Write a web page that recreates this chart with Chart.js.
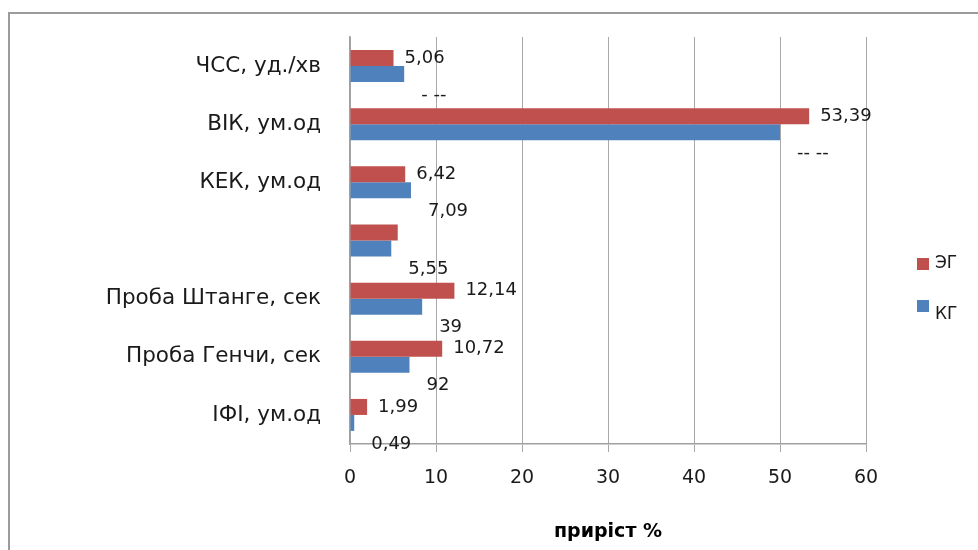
<!DOCTYPE html>
<html><head><meta charset="utf-8">
<script src="https://cdn.jsdelivr.net/npm/chart.js@4"></script>
<style>
html,body{margin:0;padding:0;background:#fff;overflow:hidden;width:978px;height:550px;}
#frame{position:absolute;left:8px;top:12px;width:1000px;height:600px;border:2px solid #9b9b9b;box-sizing:border-box;}
#wrap{position:absolute;left:0;top:0;width:978px;height:550px;}
</style></head><body>
<div id="frame"></div>
<div id="wrap"><canvas id="c" width="978" height="550"></canvas></div>
<script>
const categories = ['ЧСС, уд./хв', 'ВІК, ум.од', 'КЕК, ум.од', '', 'Проба Штанге, сек', 'Проба Генчи, сек', 'ІФІ, ум.од'];
const egValues = [5.06, 53.39, 6.42, 5.55, 12.14, 10.72, 1.99];
const kgValues = [6.3, 50.0, 7.09, 4.8, 8.39, 6.92, 0.49];
const egLabels = ['5,06', '53,39', '6,42', '', '12,14', '10,72', '1,99'];
const kgLabels = ['- --', '-- --', '7,09', '5,55', '39', '92', '0,49'];
const xTicks = [0, 10, 20, 30, 40, 50, 60];
const seriesNames = ['ЭГ', 'КГ'];
const axisTitle = 'приріст %';

const FONT = '"DejaVu Sans", sans-serif';
const RED = '#C0504D', BLUE = '#4F81BD';

const labelPlugin = {
  id: 'valueLabels',
  afterDatasetsDraw(chart) {
    const ctx = chart.ctx;
    ctx.save();
    ctx.font = '18px ' + FONT;
    ctx.fillStyle = '#1a1a1a';
    ctx.textAlign = 'left';
    ctx.textBaseline = 'middle';
    const sets = [egLabels, kgLabels];
    chart.data.datasets.forEach((ds, di) => {
      const meta = chart.getDatasetMeta(di);
      meta.data.forEach((el, i) => {
        const t = sets[di][i];
        if (!t) return;
        if (di === 0) ctx.fillText(t, el.x + 11, el.y);
        else ctx.fillText(t, el.x + 17, el.y + 21);
      });
    });
    ctx.restore();
  }
};

const legendPlugin = {
  id: 'sideLegend',
  afterDraw(chart) {
    const ctx = chart.ctx;
    const a = chart.chartArea;
    ctx.save();
    ctx.font = '17px ' + FONT;
    ctx.textBaseline = 'middle';
    ctx.textAlign = 'left';
    const x = a.right + 51;
    const ys = [264, 306];
    chart.data.datasets.forEach((ds, i) => {
      ctx.fillStyle = ds.backgroundColor;
      ctx.fillRect(x, ys[i] - 6, 12, 12);
      ctx.fillStyle = '#1a1a1a';
      ctx.fillText(ds.label, x + 18, ys[i] + (i === 1 ? 9 : 0));
    });
    ctx.restore();
  }
};

new Chart(document.getElementById('c'), {
  type: 'bar',
  data: {
    labels: categories,
    datasets: [
      { label: seriesNames[0], data: egValues, backgroundColor: RED, borderWidth: 0 },
      { label: seriesNames[1], data: kgValues, backgroundColor: BLUE, borderWidth: 0 }
    ]
  },
  options: {
    indexAxis: 'y',
    responsive: false,
    devicePixelRatio: 1,
    animation: false,
    categoryPercentage: 0.55,
    barPercentage: 1.0,
    layout: { padding: { top: 37, right: 112, left: 0, bottom: 0 } },
    plugins: { legend: { display: false }, tooltip: { enabled: false } },
    scales: {
      x: {
        min: 0, max: 60,
        afterBuildTicks(s) { s.ticks = xTicks.map(v => ({ value: v })); },
        afterFit(s) { s.height = 106; s.paddingLeft = 0; s.paddingRight = 0; },
        grid: { color: '#a8a8a8', lineWidth: 1, tickLength: 8, drawTicks: true },
        border: { display: true, color: '#a0a0a0', width: 1.5 },
        ticks: { font: { family: FONT, size: 19 }, color: '#1a1a1a', padding: 15 },
        title: { display: true, text: axisTitle, font: { family: FONT, size: 19, weight: 'bold' }, color: '#000', padding: { top: 0, bottom: 7 } }
      },
      y: {
        afterFit(s) { s.width = 350; s.paddingTop = 0; s.paddingBottom = 0; },
        grid: { display: false, drawTicks: false },
        border: { display: true, color: '#a0a0a0', width: 1.5 },
        ticks: { font: { family: FONT, size: 21.5 }, color: '#1a1a1a', padding: 29 }
      }
    }
  },
  plugins: [labelPlugin, legendPlugin]
});
</script>
</body></html>
